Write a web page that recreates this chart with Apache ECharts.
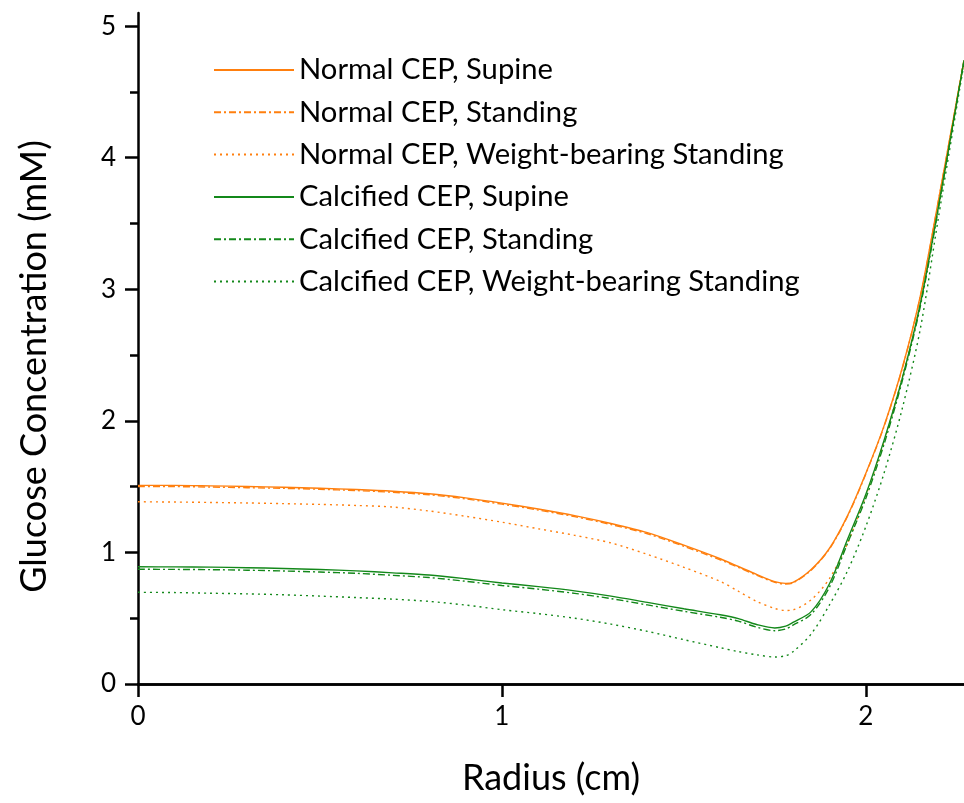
<!DOCTYPE html>
<html lang="en">
<head>
  <meta charset="UTF-8">
  <title>Glucose Concentration vs Radius</title>
  <script type="text/javascript" src="https://cdn.jsdelivr.net/npm/echarts@6/dist/echarts.min.js"></script>
  <style type="text/css">
    * { margin: 0; padding: 0; }
    html, body { width: 100%; height: 100%; background-color: #fff; }
    #chart { width: 964px; height: 803px; }
  </style>
</head>
<body>
<div id="chart"></div>
<script type="text/javascript">
  // radius (cm)
  var radius = [0, 0.1, 0.2, 0.3, 0.4, 0.5, 0.6, 0.7, 0.8, 0.9, 1.0, 1.1, 1.2, 1.3, 1.4, 1.5, 1.6, 1.65, 1.7, 1.75, 1.78, 1.8, 1.85, 1.9, 1.95, 2.0, 2.05, 2.1, 2.15, 2.2, 2.27];

  // glucose concentration (mM)
  var normalSupine = [1.51, 1.51, 1.506, 1.501, 1.495, 1.488, 1.478, 1.465, 1.446, 1.415, 1.375, 1.33, 1.28, 1.22, 1.15, 1.055, 0.952, 0.893, 0.833, 0.778, 0.765, 0.772, 0.87, 1.03, 1.28, 1.6, 1.96, 2.4, 2.95, 3.68, 4.74];
  var normalStanding = [1.50, 1.50, 1.497, 1.492, 1.487, 1.48, 1.47, 1.457, 1.438, 1.407, 1.367, 1.322, 1.272, 1.212, 1.142, 1.047, 0.944, 0.886, 0.827, 0.773, 0.76, 0.768, 0.865, 1.025, 1.275, 1.595, 1.955, 2.395, 2.945, 3.675, 4.74];
  var normalWeight = [1.385, 1.383, 1.38, 1.376, 1.371, 1.365, 1.357, 1.345, 1.315, 1.275, 1.23, 1.18, 1.13, 1.072, 0.985, 0.887, 0.78, 0.705, 0.628, 0.574, 0.559, 0.563, 0.64, 0.8, 1.07, 1.43, 1.84, 2.33, 2.88, 3.64, 4.74];
  var calcSupine = [0.891, 0.89, 0.888, 0.884, 0.878, 0.87, 0.86, 0.845, 0.828, 0.8, 0.768, 0.74, 0.708, 0.668, 0.62, 0.572, 0.526, 0.497, 0.452, 0.426, 0.44, 0.468, 0.55, 0.76, 1.1, 1.44, 1.85, 2.32, 2.89, 3.63, 4.74];
  var calcStanding = [0.872, 0.871, 0.869, 0.865, 0.859, 0.851, 0.841, 0.826, 0.809, 0.781, 0.749, 0.721, 0.689, 0.649, 0.601, 0.553, 0.507, 0.478, 0.432, 0.405, 0.418, 0.447, 0.53, 0.735, 1.07, 1.41, 1.82, 2.3, 2.87, 3.62, 4.74];
  var calcWeight = [0.697, 0.695, 0.69, 0.685, 0.678, 0.668, 0.657, 0.645, 0.628, 0.6, 0.565, 0.535, 0.5, 0.455, 0.4, 0.337, 0.276, 0.246, 0.222, 0.205, 0.215, 0.245, 0.38, 0.6, 0.86, 1.195, 1.6, 2.09, 2.7, 3.55, 4.72];

  var seriesNames = ['Normal CEP, Supine', 'Normal CEP, Standing', 'Normal CEP, Weight-bearing Standing',
    'Calcified CEP, Supine', 'Calcified CEP, Standing', 'Calcified CEP, Weight-bearing Standing'];
  var seriesData = [normalSupine, normalStanding, normalWeight, calcSupine, calcStanding, calcWeight];

  var xTicks = [0, 1, 2];
  var yTicks = [0, 1, 2, 3, 4, 5];
  var yMinorTicks = [0.5, 1.5, 2.5, 3.5, 4.5];

  var orange = '#ff7f0e';
  var green = '#13881a';
  var colors = [orange, orange, orange, green, green, green];
  var dashDot = [7, 3, 2, 3];
  var dotted = [2, 4];
  var lineTypes = ['solid', dashDot, dotted, 'solid', dashDot, dotted];

  var font = 'Lato';

  function pairs(ys) {
    return radius.map(function (r, i) { return [r, ys[i]]; });
  }

  var series = seriesNames.map(function (name, i) {
    return {
      name: name,
      type: 'line',
      smooth: 0.3,
      symbol: 'none',
      xAxisIndex: 0,
      yAxisIndex: 0,
      lineStyle: { color: colors[i], width: 1.4, type: lineTypes[i] },
      itemStyle: { color: colors[i] },
      data: pairs(seriesData[i])
    };
  });

  var myChart = echarts.init(document.getElementById('chart'));
  var option = {
    animation: false,
    backgroundColor: '#fff',
    textStyle: { fontFamily: font, color: '#000' },
    grid: { left: 138, right: 0, top: 13, bottom: 119, containLabel: false },
    legend: {
      orient: 'vertical',
      left: 213,
      top: 55,
      padding: 0,
      itemWidth: 80,
      itemHeight: 14,
      itemGap: 12.3,
      itemStyle: { opacity: 0 },
      textStyle: { fontFamily: font, fontSize: 29.2, color: '#000', lineHeight: 30 },
      data: seriesNames
    },
    xAxis: [{
      type: 'value',
      position: 'bottom',
      min: 0,
      max: 2.27,
      name: 'Radius (cm)',
      nameLocation: 'middle',
      nameGap: 76,
      nameTextStyle: { fontFamily: font, fontSize: 36, color: '#000' },
      splitLine: { show: false },
      axisLine: { lineStyle: { color: '#000', width: 2.5 } },
      axisTick: { customValues: xTicks, length: 13, lineStyle: { color: '#000', width: 2.5 } },
      axisLabel: { customValues: xTicks, margin: 20, fontFamily: font, fontSize: 26, color: '#000' }
    }, {
      type: 'value',
      position: 'top',
      min: 0,
      max: 2.27,
      splitLine: { show: false },
      axisLine: { lineStyle: { color: '#000', width: 2.5 } },
      axisTick: { show: false },
      axisLabel: { show: false }
    }],
    yAxis: [{
      type: 'value',
      min: 0,
      max: 5.1,
      name: 'Glucose Concentration (mM)',
      nameLocation: 'middle',
      nameGap: 86,
      nameTextStyle: { fontFamily: font, fontSize: 36, color: '#000', padding: [0, 36, 0, 0] },
      splitLine: { show: false },
      axisLine: { onZero: false, lineStyle: { color: '#000', width: 2.5 } },
      axisTick: { customValues: yTicks, length: 13, lineStyle: { color: '#000', width: 2.5 } },
      axisLabel: { customValues: yTicks, margin: 22, fontFamily: font, fontSize: 26, color: '#000' }
    }, {
      type: 'value',
      position: 'left',
      min: 0,
      max: 5.1,
      splitLine: { show: false },
      axisLine: { show: false },
      axisTick: { show: true, customValues: yMinorTicks, length: 8, lineStyle: { color: '#000', width: 2.5 } },
      axisLabel: { show: false }
    }],
    series: series
  };
  myChart.setOption(option);
</script>
</body>
</html>
